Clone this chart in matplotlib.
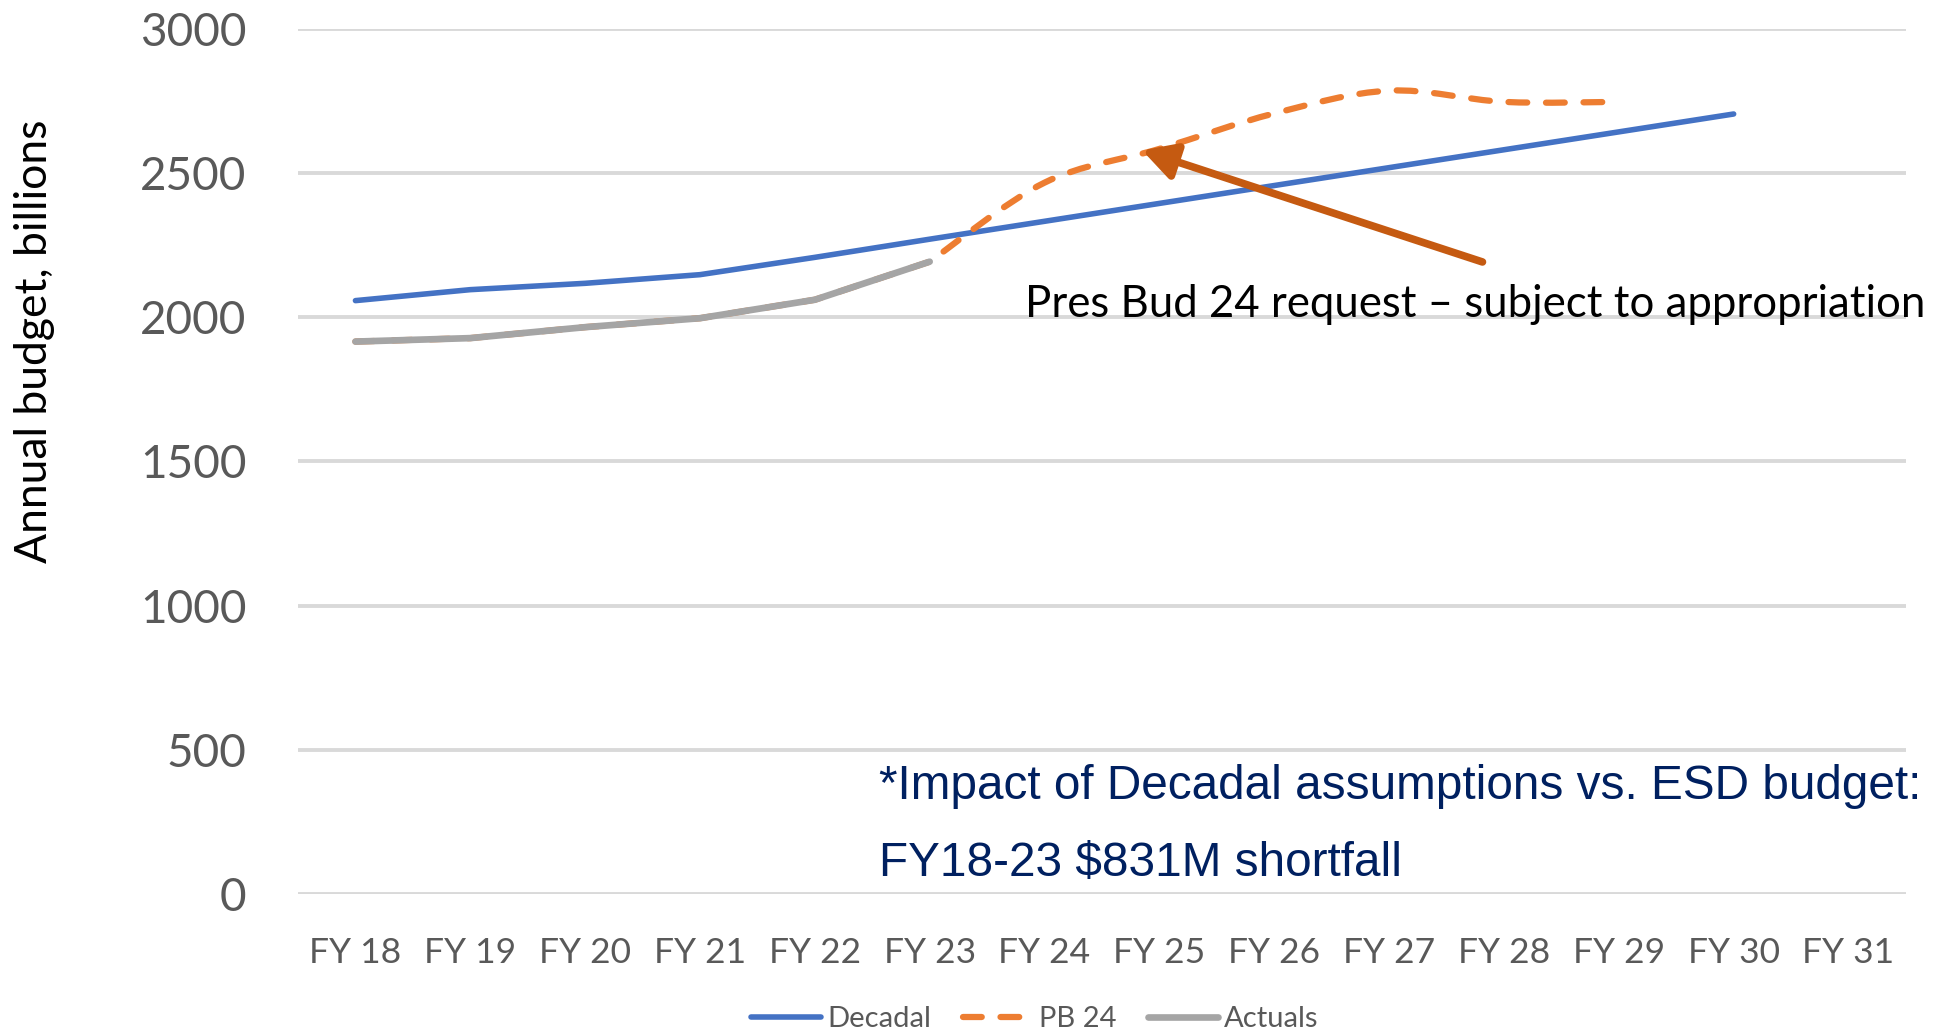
import numpy as np
import matplotlib
matplotlib.use("Agg")
import matplotlib.pyplot as plt
from matplotlib.path import Path
from matplotlib.patches import PathPatch, FancyArrowPatch
from matplotlib.lines import Line2D

# data
years = ["FY 18", "FY 19", "FY 20", "FY 21", "FY 22", "FY 23", "FY 24",
         "FY 25", "FY 26", "FY 27", "FY 28", "FY 29", "FY 30", "FY 31"]
decadal = [2057, 2095, 2117, 2147, 2207, 2270, 2332, 2394, 2456, 2518, 2580, 2642, 2704]
pb24 = [1915, 1927, 1965, 1996, 2060, 2192, 2466, 2583, 2706, 2785, 2746, 2746]
actuals = [1915, 1927, 1965, 1996, 2060, 2192]

BLUE = "#4472C4"
ORANGE = "#ED7D31"
GRAY = "#A5A5A5"
GRID = "#D9D9D9"
TXT = "#595959"

plt.rcParams["font.family"] = ["Lato", "DejaVu Sans"]

fig = plt.figure(figsize=(19.49, 10.33), dpi=100)
ax = fig.add_axes([0.1529, 0.1346, 0.825, 0.8377])

x = np.arange(len(years))

ax.plot(x[:len(decadal)], decadal, color=BLUE, lw=4, solid_capstyle="round", zorder=3)


def smooth_path(xs, ys, start):
    # straight under the actuals, then cubic bezier (Excel-style smoothed line)
    pts = np.column_stack([xs, ys]).astype(float)
    verts = [pts[0]]
    codes = [Path.MOVETO]
    n = len(pts)
    for i in range(n - 1):
        p1 = pts[i]
        p2 = pts[i + 1]
        if i < start:
            verts.append(p2)
            codes.append(Path.LINETO)
            continue
        p0 = pts[max(i - 1, start)]
        p3 = pts[min(i + 2, n - 1)]
        c1 = p1 + (p2 - p0) / 6.0
        c2 = p2 - (p3 - p1) / 6.0
        verts += [c1, c2, p2]
        codes += [Path.CURVE4] * 3
    return Path(verts, codes)


pb_dash = (0, (3.0, 3.0))
pb_patch = PathPatch(smooth_path(x[:len(pb24)], pb24, len(actuals) - 1),
                     facecolor="none", edgecolor=ORANGE, lw=4.5,
                     linestyle=pb_dash, capstyle="round", zorder=4)
ax.add_patch(pb_patch)

ax.plot(x[:len(actuals)], actuals, color=GRAY, lw=4.8, solid_capstyle="round", zorder=5)

ax.set_xlim(-0.5, len(years) - 0.5)
ax.set_ylim(0, 3000)
ax.set_yticks(range(0, 3001, 500))
ax.set_xticks(x)
ax.set_xticklabels(years)
ax.grid(axis="y", color=GRID, lw=2.8)
ax.set_axisbelow(True)
for s in ax.spines.values():
    s.set_visible(False)
ax.tick_params(axis="y", length=0, pad=37, labelsize=33, labelcolor=TXT)
ax.tick_params(axis="x", length=0, pad=31, labelsize=25.5, labelcolor=TXT)

fig.text(35 / 1949, 0.67, "Annual budget, billions", rotation=90,
         ha="center", va="center", fontsize=32, color="black")

# annotation arrow + text
arrow = FancyArrowPatch((9.813, 2191), (6.85, 2578),
                        arrowstyle="-|>,head_length=1.0,head_width=0.55",
                        mutation_scale=20, color="#C55A11", lw=5.5,
                        shrinkA=0, shrinkB=0, zorder=6)
ax.add_patch(arrow)
ax.text(5.83, 2044, "Pres Bud 24 request \u2013 subject to appropriation",
        ha="left", va="center", fontsize=31.5, color="black", clip_on=False, zorder=7)

ax.text(4.556, 371, "*Impact of Decadal assumptions vs. ESD budget:",
        ha="left", va="center", fontsize=34.4, color="#002060",
        family=["Liberation Sans", "DejaVu Sans"], zorder=7)
ax.text(4.556, 107, "FY18-23 $831M shortfall",
        ha="left", va="center", fontsize=34.4, color="#002060",
        family=["Liberation Sans", "DejaVu Sans"], zorder=7)

handles = [
    Line2D([], [], color=BLUE, lw=4, solid_capstyle="round"),
    Line2D([], [], color=ORANGE, lw=4.5, linestyle=pb_dash, dash_capstyle="round"),
    Line2D([], [], color=GRAY, lw=4.8, solid_capstyle="round"),
]
fig.legend(handles, ["Decadal", "PB 24", "Actuals"], loc="center",
           bbox_to_anchor=(1035 / 1949, 1 - 1019 / 1033), ncol=3, frameon=False,
           fontsize=21, labelcolor=TXT, handlelength=2.4, handletextpad=0.2,
           columnspacing=1.1, borderpad=0)

fig.savefig("out.png", dpi=100)
